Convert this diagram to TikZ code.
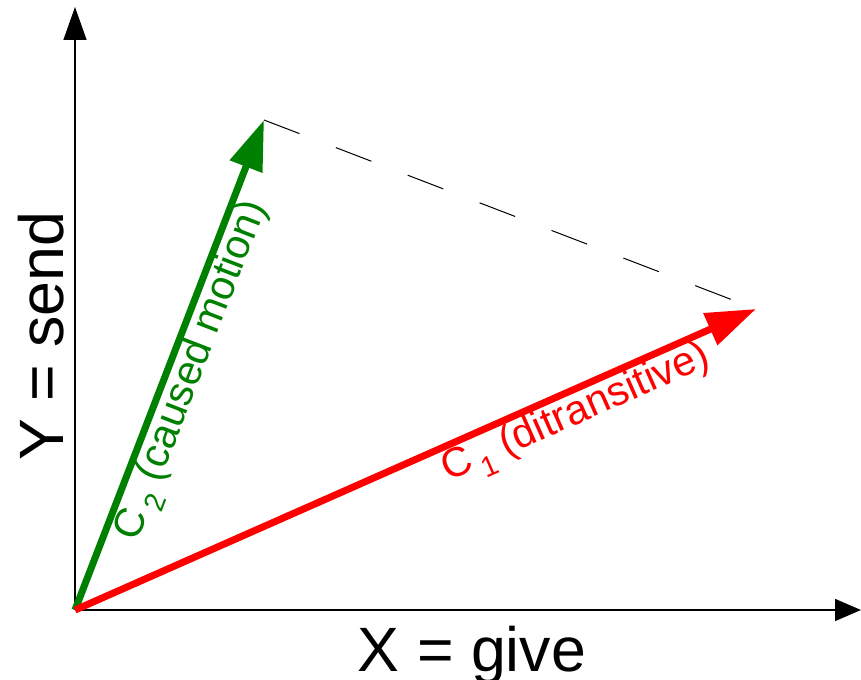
\documentclass[tikz,border=0pt]{standalone}
\usepackage{fontspec}
\setmainfont{Liberation Sans}
\usetikzlibrary{arrows.meta}
\definecolor{cgreen}{RGB}{0,128,0}
\definecolor{cred}{RGB}{255,0,0}
\newcommand\mysub[1]{\kern0.15em\raisebox{-0.3em}{\fontsize{21.5}{22}\selectfont #1}}
\begin{document}
\begin{tikzpicture}[x=0.75pt,y=-0.75pt,
  axis/.style={line width=1.1pt},
  vec/.style={line width=5.25pt,-{Triangle[length=37.5pt,width=25pt]}},
  dashline/.style={line width=0.75pt,dash pattern=on 28.5pt off 29.25pt},
  lbl/.style={font=\fontsize{31}{37}\selectfont, sloped, anchor=north, inner sep=2.5pt},
  axlbl/.style={font=\fontsize{47}{56}\selectfont, inner sep=0pt}]
\useasboundingbox (0,0) rectangle (861,680);
\coordinate (O) at (75,610);
\coordinate (YT) at (75,7);
\coordinate (XT) at (861,610);
\coordinate (G) at (264,120);
\coordinate (R) at (756,309);
\draw[axis,-{Triangle[length=24.75pt,width=17.25pt]}] (O) -- (YT);
\draw[axis,-{Triangle[length=19.5pt,width=16.5pt]}] (O) -- (XT);
\draw[dashline] (G) -- (R);
\draw[vec,cgreen] (O) -- (G);
\draw[vec,cred] (O) -- (R);
\path (O) -- (G) node[lbl,pos=0.505,text=cgreen] (lg) {C\mysub{2} (caused motion)};
\path (O) -- (R) node[lbl,pos=0.722,text=cred] (lr) {C\mysub{1} (ditransitive)};
\node[axlbl,anchor=base] (xl) at (472,672) {X = give};
\node[axlbl,rotate=90,anchor=base] (yl) at (63,336) {Y = send};
\end{tikzpicture}
\end{document}
